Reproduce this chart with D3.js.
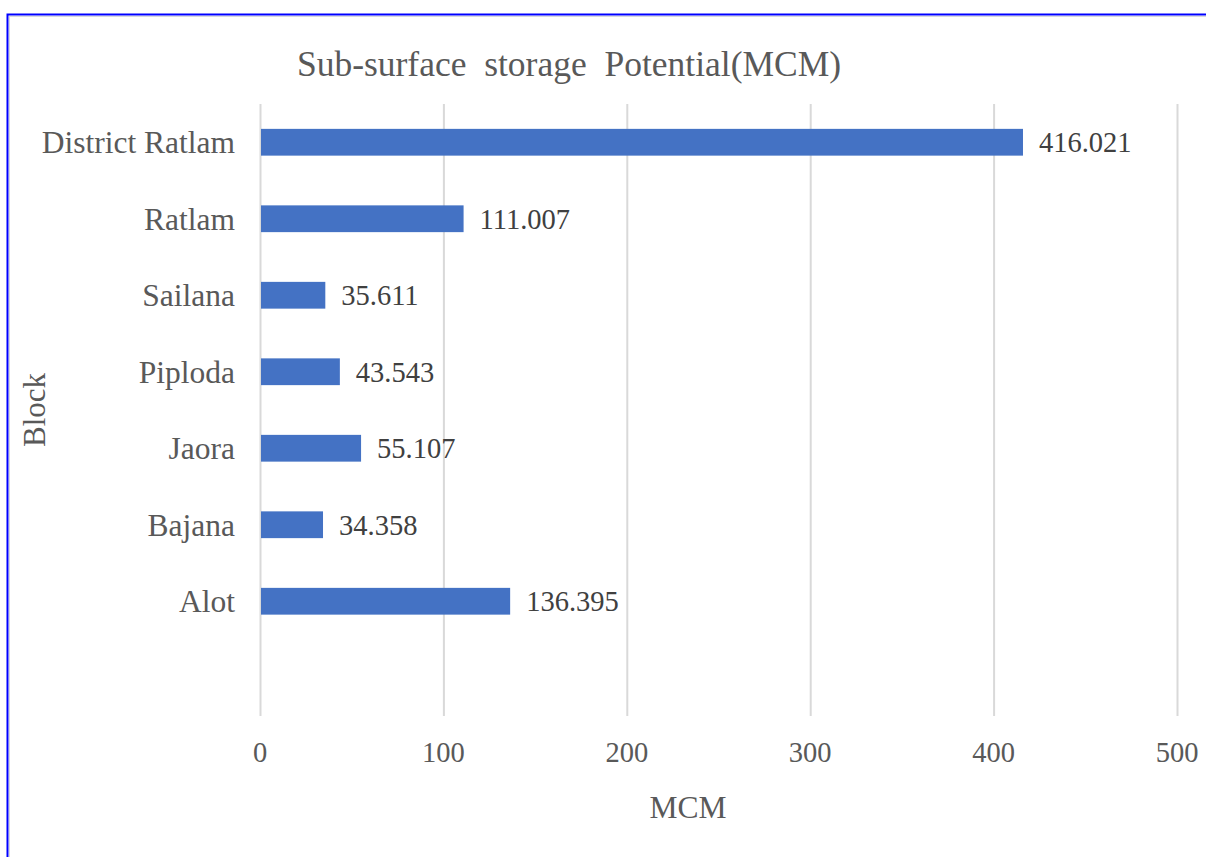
<!DOCTYPE html>
<html><head><meta charset="utf-8">
<script src="https://cdn.jsdelivr.net/npm/d3@7"></script>
<style>
html,body{margin:0;padding:0;background:#fff;}
svg{display:block;font-family:"Liberation Serif","Times New Roman",serif;}
</style></head>
<body>
<svg id="chart" width="1206" height="857"></svg>
<script>
const categories = ["District Ratlam","Ratlam","Sailana","Piploda","Jaora","Bajana","Alot",""];
const values = [416.021,111.007,35.611,43.543,55.107,34.358,136.395,null];
const valueLabels = ["416.021","111.007","35.611","43.543","55.107","34.358","136.395",""];
const xTicks = [0,100,200,300,400,500];

const svg = d3.select("#chart");
// outer frame
svg.append("rect").attr("x",7.5).attr("y",14.5).attr("width",1220).attr("height",900)
  .attr("fill","#fff").attr("stroke","#0000ff").attr("stroke-width",2);
svg.append("line").attr("x1",9.5).attr("x2",9.5).attr("y1",16).attr("y2",857).attr("stroke","#d9d9d9");
svg.append("line").attr("x1",9).attr("x2",1206).attr("y1",16.5).attr("y2",16.5).attr("stroke","#d9d9d9");

const x = d3.scaleLinear().domain([0,500]).range([260,1177]);
const y = d3.scaleBand().domain(categories).range([104,716]).paddingInner(0.65).paddingOuter(0.325);

// gridlines
svg.append("g").selectAll("line").data(xTicks).join("line")
  .attr("x1",d=>x(d)+0.5).attr("x2",d=>x(d)+0.5).attr("y1",104).attr("y2",716)
  .attr("stroke","#d9d9d9").attr("stroke-width",2);

// bars
const data = categories.map((c,i)=>({c,v:values[i],l:valueLabels[i]})).filter(d=>d.v!=null);
svg.append("g").selectAll("rect").data(data).join("rect")
  .attr("x",x(0)+1).attr("y",d=>y(d.c)).attr("width",d=>x(d.v)-x(0)-1).attr("height",y.bandwidth())
  .attr("fill","#4472C4");

// value labels
svg.append("g").selectAll("text").data(data).join("text")
  .attr("x",d=>x(d.v)+16).attr("y",d=>y(d.c)+y.bandwidth()/2).attr("dy","0.35em")
  .attr("font-size",28.5).attr("fill","#404040").text(d=>d.l);

// category labels
svg.append("g").selectAll("text").data(categories).join("text")
  .attr("x",235).attr("y",d=>y(d)+y.bandwidth()/2).attr("dy","0.35em").attr("text-anchor","end")
  .attr("font-size",31.5).attr("fill","#595959").text(d=>d);

// x tick labels
svg.append("g").selectAll("text").data(xTicks).join("text")
  .attr("x",d=>x(d)).attr("y",752).attr("dy","0.35em").attr("text-anchor","middle")
  .attr("font-size",28.5).attr("fill","#595959").text(d=>d);

// axis titles
svg.append("text").attr("x",688).attr("y",807).attr("dy","0.35em").attr("text-anchor","middle")
  .attr("font-size",31.5).attr("fill","#595959").text("MCM");
svg.append("text").attr("transform","translate(34,410) rotate(-90)").attr("dy","0.35em").attr("text-anchor","middle")
  .attr("font-size",31).attr("fill","#595959").text("Block");

// title
svg.append("text").attr("x",569).attr("y",64).attr("dy","0.35em").attr("text-anchor","middle")
  .attr("font-size",35.5).attr("fill","#595959").attr("xml:space","preserve").style("white-space","pre")
  .text("Sub-surface  storage  Potential(MCM)");
</script>
</body></html>
